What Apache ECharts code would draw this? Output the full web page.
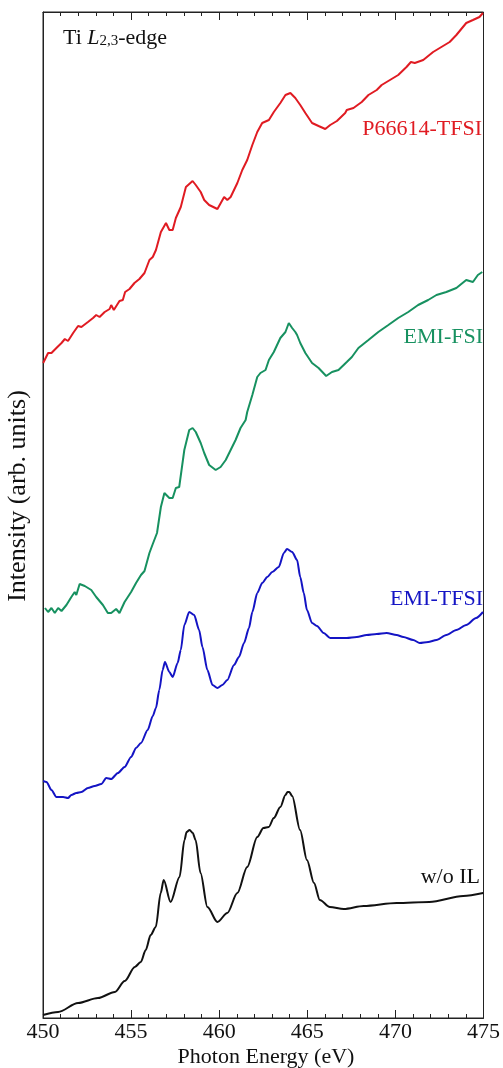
<!DOCTYPE html>
<html>
<head>
<meta charset="utf-8">
<script src="https://cdn.jsdelivr.net/npm/echarts@6/dist/echarts.min.js"></script>
<style>
html,body{margin:0;padding:0;background:#fff;}
#c{width:503px;height:1068px;}
</style>
</head>
<body>
<div id="c"></div>
<script>
// Photon energy (eV) and intensity (arb. units)
const energyRed = [450.01,450.29,450.48,450.76,451.05,451.24,451.42,451.71,451.99,452.18,452.55,452.84,453.02,453.21,453.50,453.78,453.87,454.02,454.34,454.53,454.66,454.91,455.19,455.47,455.76,456.04,456.23,456.41,456.69,456.98,457.17,457.36,457.54,457.82,458.11,458.49,458.67,458.95,459.15,459.43,459.90,460.28,460.46,460.65,461.03,461.31,461.59,461.88,462.16,462.44,462.82,463.10,463.47,463.76,464.04,464.32,464.60,464.89,465.27,465.64,466.02,466.30,466.68,467.15,467.24,467.62,468.09,468.47,468.94,469.22,469.69,470.16,470.63,470.88,471.10,471.58,472.14,472.61,473.08,473.46,474.02,474.40,474.77,474.97];
const intensityRed = [655,665,665,670,675,679,677,685,692,691,696,700,703,701,706,709,713,708,717,718,726,729,735,739,745,758,761,768,786,795,788,788,800,811,831,837,833,826,818,813,809,821,818,821,835,848,858,873,886,895,898,906,915,923,925,920,913,905,895,892,889,893,897,905,908,910,916,923,928,933,938,943,951,956,955,958,966,971,976,983,995,998,1001,1005];

const energyGreen = [450.11,450.29,450.48,450.67,450.86,451.05,451.33,451.61,451.80,451.89,452.08,452.37,452.74,453.02,453.40,453.68,453.87,454.15,454.34,454.63,455.00,455.28,455.56,455.76,456.04,456.23,456.47,456.69,456.89,457.17,457.36,457.54,457.73,458.02,458.30,458.49,458.67,458.95,459.15,459.43,459.80,460.08,460.37,460.65,460.93,461.21,461.50,461.59,461.88,462.16,462.34,462.63,462.82,463.10,463.47,463.76,463.95,464.14,464.32,464.42,464.60,464.89,465.27,465.64,466.07,466.40,466.77,467.24,467.53,467.90,468.47,469.03,469.60,470.16,470.73,471.29,471.86,472.33,472.89,473.46,474.02,474.40,474.68,474.93];
const intensityGreen = [410,406,410,405,410,407,413,421,426,423,434,432,428,421,413,405,405,409,405,416,426,435,443,447,465,474,485,511,525,520,520,530,531,568,588,590,586,575,565,553,548,551,558,568,578,590,598,606,623,641,645,648,658,666,680,686,695,690,686,683,675,665,655,650,642,646,648,656,661,670,678,686,693,700,706,713,718,723,726,730,738,736,743,746];

const energyBlue = [450.01,450.20,450.48,450.76,451.14,451.42,451.61,451.89,452.18,452.55,452.93,453.31,453.59,453.87,454.25,454.63,455.00,455.28,455.56,455.94,456.23,456.41,456.60,456.79,456.92,457.17,457.36,457.64,457.82,458.02,458.30,458.58,458.86,459.05,459.33,459.62,459.90,460.18,460.46,460.84,461.12,461.41,461.69,461.88,462.16,462.44,462.73,463.01,463.38,463.67,463.85,464.14,464.42,464.60,464.80,464.98,465.27,465.55,465.93,466.30,466.68,467.24,467.81,468.37,468.94,469.50,470.07,470.45,471.01,471.38,471.86,472.33,472.89,473.46,474.02,474.58,474.97];
const intensityBlue = [237,236,228,221,221,220,223,225,226,230,232,234,240,239,245,251,261,270,275,288,302,310,328,348,356,346,341,355,368,393,406,403,388,371,348,333,330,333,338,353,361,375,390,406,425,435,441,446,451,465,469,466,458,441,425,408,395,392,385,380,380,380,381,383,384,385,383,381,378,375,376,378,383,388,393,400,406];

const energyBlack = [450.00,450.86,451.99,453.12,454.08,454.64,455.21,455.55,455.83,456.11,456.40,456.68,456.85,457.24,457.75,458.03,458.15,458.32,458.50,458.66,458.94,459.33,459.90,460.46,461.03,461.59,462.16,462.51,462.81,463.10,463.47,463.76,463.88,463.98,464.14,464.59,464.98,465.38,465.71,466.28,467.07,468.20,470.07,471.93,473.85,474.98];
const intensityBlack = [3,6,15,20,26,37,51,56,68,83,91,125,138,116,141,178,186,188,185,178,145,111,96,105,125,151,181,190,191,200,211,223,226,226,222,188,158,135,118,111,109,112,115,116,122,125];

const seriesNames = ['P66614-TFSI','EMI-FSI','EMI-TFSI','w/o IL'];
const xTicks = [450,455,460,465,470,475];

function pairs(xs, ys){ return xs.map((x,i)=>[x, ys[i]]); }

const FONT = '"Liberation Serif", "DejaVu Serif", serif';
const colors = ['#e01b22','#179160','#1414c4','#111111'];
const smoothness = [0, 0, 0.25, 0.3];
const datasets = [
  pairs(energyRed, intensityRed),
  pairs(energyGreen, intensityGreen),
  pairs(energyBlue, intensityBlue),
  pairs(energyBlack, intensityBlack)
];

const chart = echarts.init(document.getElementById('c'), null, {renderer:'canvas'});

const xBase = {
  type:'value', min: xTicks[0], max: xTicks[xTicks.length-1], interval: 5,
  splitLine:{show:false},
  axisLine:{show:true, lineStyle:{color:'#222', width:1}},
  axisTick:{show:true, inside:true, length:8, lineStyle:{color:'#222', width:1}},
  minorTick:{show:true, splitNumber:5, length:4, lineStyle:{color:'#222', width:1}},
  minorSplitLine:{show:false}
};

chart.setOption({
  animation:false,
  backgroundColor:'#fff',
  grid:{left:43, right:15, top:12, bottom:50, show:true, borderColor:'#222', borderWidth:1, backgroundColor:'transparent'},
  xAxis:[
    Object.assign({}, xBase, {position:'bottom',
      axisLabel:{show:true, margin:3, fontFamily:FONT, fontSize:22, color:'#111'}}),
    Object.assign({}, xBase, {position:'top', axisLabel:{show:false}})
  ],
  yAxis:[{type:'value', min:0, max:1006, axisLine:{show:true, lineStyle:{color:'#222'}},
    axisTick:{show:false}, axisLabel:{show:false}, splitLine:{show:false}}],
  series: datasets.map((d,i)=>({
    name: seriesNames[i], type:'line', data:d, xAxisIndex:0, yAxisIndex:0,
    showSymbol:false, symbol:'none', smooth:smoothness[i], smoothMonotone:'x',
    lineStyle:{color:colors[i], width:2}
  })),
  graphic:[
    {type:'text', left:63, top:27, style:{
      text:'{a|Ti }{i|L}{s|2,3}{a|-edge}',
      rich:{
        a:{fontFamily:FONT, fontSize:22, fill:'#111', lineHeight:26, verticalAlign:'bottom'},
        i:{fontFamily:FONT, fontSize:22, fontStyle:'italic', fill:'#111', lineHeight:26, verticalAlign:'bottom'},
        s:{fontFamily:FONT, fontSize:15, fill:'#111', lineHeight:17, verticalAlign:'bottom'}
      }}},
    {type:'text', x:482, y:129, style:{text:seriesNames[0], fontFamily:FONT, fontSize:22, fill:colors[0], align:'right', verticalAlign:'middle'}},
    {type:'text', x:483, y:337, style:{text:seriesNames[1], fontFamily:FONT, fontSize:22, fill:colors[1], align:'right', verticalAlign:'middle'}},
    {type:'text', x:483, y:599, style:{text:seriesNames[2], fontFamily:FONT, fontSize:22, fill:colors[2], align:'right', verticalAlign:'middle'}},
    {type:'text', x:480, y:877, style:{text:seriesNames[3], fontFamily:FONT, fontSize:22, fill:colors[3], align:'right', verticalAlign:'middle'}},
    {type:'text', x:18, y:496, rotation:Math.PI/2, style:{text:'Intensity (arb. units)', fontFamily:FONT, fontSize:26, fill:'#111', align:'center', verticalAlign:'middle'}},
    {type:'text', x:266, y:1057, style:{text:'Photon Energy (eV)', fontFamily:FONT, fontSize:22, fill:'#111', align:'center', verticalAlign:'middle'}}
  ]
});
</script>
</body>
</html>
